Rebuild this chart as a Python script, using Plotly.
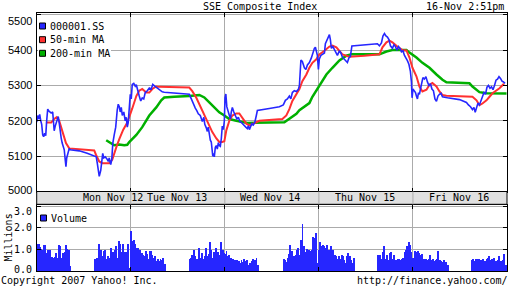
import numpy as np
import plotly.graph_objects as go

# ---------------- data (time in trading-days from chart start, price in index points) -------------
price_pts = [
    (0.000, 5196), (0.011, 5215), (0.021, 5205), (0.032, 5218), (0.043, 5200), (0.053, 5190),
    (0.064, 5160), (0.074, 5155), (0.085, 5165), (0.096, 5158), (0.106, 5200), (0.117, 5233),
    (0.128, 5228), (0.138, 5225), (0.154, 5222), (0.170, 5225), (0.181, 5195), (0.186, 5172),
    (0.197, 5185), (0.207, 5192), (0.218, 5205), (0.229, 5212), (0.239, 5195), (0.250, 5160),
    (0.261, 5150), (0.271, 5137), (0.282, 5128), (0.293, 5118), (0.303, 5090), (0.311, 5070),
    (0.319, 5095), (0.330, 5108), (0.346, 5122), (0.356, 5118),
    (0.452, 5115), (0.537, 5108), (0.612, 5100), (0.633, 5098), (0.644, 5080), (0.654, 5062),
    (0.665, 5043), (0.681, 5060), (0.686, 5076), (0.702, 5108), (0.713, 5095), (0.729, 5098),
    (0.745, 5093), (0.761, 5085), (0.771, 5095), (0.787, 5076), (0.798, 5090), (0.809, 5136),
    (0.824, 5160), (0.840, 5182), (0.856, 5230), (0.867, 5247), (0.878, 5240), (0.888, 5225),
    (0.899, 5238), (0.910, 5215), (0.926, 5225), (0.941, 5200), (0.952, 5210), (0.963, 5182),
    (0.973, 5195), (0.984, 5240), (0.995, 5275),
    (1.005, 5262), (1.016, 5303), (1.032, 5306), (1.048, 5298), (1.059, 5302), (1.074, 5284),
    (1.090, 5270), (1.106, 5256), (1.122, 5265), (1.138, 5262), (1.154, 5280), (1.176, 5285),
    (1.197, 5293), (1.218, 5290), (1.234, 5303), (1.255, 5298), (1.271, 5295), (1.293, 5290),
    (1.314, 5285), (1.335, 5282), (1.356, 5281),
    (1.622, 5275), (1.644, 5262), (1.665, 5247), (1.686, 5236), (1.702, 5229), (1.718, 5220),
    (1.739, 5215), (1.750, 5205), (1.761, 5198), (1.777, 5210), (1.787, 5190), (1.803, 5180),
    (1.814, 5170), (1.824, 5182), (1.835, 5155), (1.846, 5145), (1.856, 5140), (1.867, 5120),
    (1.872, 5100), (1.883, 5108), (1.888, 5098), (1.899, 5125), (1.910, 5130), (1.920, 5120),
    (1.931, 5138), (1.941, 5130), (1.952, 5128), (1.963, 5150), (1.973, 5185), (1.984, 5175),
    (1.995, 5200), (2.002, 5265), (2.011, 5276),
    (2.021, 5240), (2.037, 5225), (2.048, 5215), (2.059, 5205), (2.069, 5225), (2.080, 5238),
    (2.096, 5225), (2.112, 5215), (2.128, 5205), (2.144, 5210), (2.160, 5198), (2.176, 5195),
    (2.191, 5190), (2.207, 5185), (2.223, 5182), (2.239, 5178), (2.250, 5186), (2.261, 5175),
    (2.271, 5182), (2.287, 5192), (2.303, 5188), (2.319, 5196), (2.335, 5215), (2.346, 5229),
    (2.473, 5235), (2.580, 5240), (2.622, 5245),
    (2.644, 5258), (2.665, 5262), (2.686, 5270), (2.702, 5262), (2.718, 5280), (2.739, 5285),
    (2.761, 5283), (2.782, 5289), (2.793, 5300),
    (2.809, 5372), (2.824, 5368), (2.846, 5350), (2.862, 5345), (2.878, 5358), (2.899, 5365),
    (2.920, 5378), (2.936, 5395), (2.952, 5405), (2.963, 5408), (2.973, 5392), (2.984, 5385),
    (2.995, 5345), (3.005, 5375), (3.021, 5385), (3.037, 5388), (3.059, 5392), (3.069, 5418),
    (3.085, 5428), (3.101, 5437), (3.112, 5444), (3.122, 5430), (3.133, 5405), (3.149, 5410),
    (3.165, 5402), (3.181, 5395), (3.197, 5385), (3.218, 5398), (3.234, 5392), (3.250, 5380),
    (3.266, 5375), (3.282, 5370), (3.303, 5365), (3.319, 5378), (3.335, 5382), (3.351, 5412),
    (3.484, 5415), (3.622, 5418),
    (3.644, 5412), (3.665, 5420), (3.681, 5440), (3.697, 5447), (3.713, 5440), (3.729, 5437),
    (3.745, 5430), (3.761, 5412), (3.782, 5405), (3.798, 5415), (3.814, 5410), (3.830, 5400),
    (3.846, 5410), (3.862, 5405), (3.878, 5395), (3.894, 5398), (3.910, 5385), (3.926, 5378),
    (3.941, 5370), (3.957, 5360), (3.973, 5340), (3.984, 5310), (3.991, 5265), (4.000, 5290),
    (4.011, 5285), (4.027, 5280), (4.037, 5270), (4.048, 5262), (4.059, 5280), (4.069, 5275),
    (4.080, 5290), (4.090, 5305), (4.106, 5322), (4.122, 5318), (4.138, 5325), (4.154, 5310),
    (4.170, 5300), (4.186, 5305), (4.202, 5290), (4.218, 5285), (4.234, 5262), (4.250, 5255),
    (4.266, 5270), (4.282, 5275), (4.298, 5278), (4.314, 5268),
    (4.367, 5265), (4.495, 5260), (4.569, 5252),
    (4.590, 5245), (4.612, 5240), (4.633, 5232), (4.649, 5238), (4.662, 5224), (4.676, 5240),
    (4.691, 5250), (4.707, 5245), (4.723, 5255), (4.739, 5270), (4.755, 5280), (4.771, 5275),
    (4.787, 5295), (4.803, 5300), (4.819, 5292), (4.835, 5296), (4.851, 5288), (4.867, 5300),
    (4.883, 5315), (4.899, 5318), (4.915, 5325), (4.931, 5320), (4.947, 5312), (4.963, 5310),
    (4.979, 5306),
]

ma50_pts = [
    (0.098, 5195), (0.154, 5195), (0.186, 5205), (0.213, 5210), (0.239, 5200), (0.274, 5170),
    (0.311, 5137), (0.346, 5122), (0.452, 5120), (0.612, 5116), (0.630, 5104), (0.665, 5085),
    (0.697, 5080), (0.771, 5080), (0.803, 5090), (0.824, 5110), (0.846, 5125), (0.878, 5148),
    (0.920, 5175), (0.963, 5195), (0.984, 5210), (1.016, 5235), (1.059, 5270), (1.090, 5285),
    (1.122, 5290), (1.165, 5280), (1.197, 5280), (1.229, 5290), (1.271, 5297), (1.303, 5296),
    (1.622, 5294), (1.654, 5284), (1.697, 5265), (1.729, 5247), (1.761, 5229), (1.803, 5205),
    (1.835, 5187), (1.867, 5168), (1.910, 5150), (1.941, 5140), (1.973, 5140), (1.995, 5142),
    (2.016, 5173), (2.048, 5200), (2.080, 5215), (2.122, 5221), (2.154, 5221), (2.186, 5210),
    (2.229, 5192), (2.261, 5187), (2.293, 5190), (2.335, 5196), (2.367, 5200), (2.612, 5205),
    (2.654, 5215), (2.686, 5233), (2.718, 5256), (2.761, 5275), (2.793, 5290), (2.824, 5312),
    (2.867, 5331), (2.899, 5350), (2.931, 5364), (2.973, 5374), (3.005, 5388), (3.059, 5398),
    (3.112, 5410), (3.144, 5413), (3.186, 5408), (3.218, 5398), (3.250, 5388), (3.293, 5384),
    (3.324, 5381), (3.484, 5384), (3.644, 5388), (3.676, 5408), (3.718, 5422), (3.750, 5427),
    (3.782, 5422), (3.824, 5412), (3.856, 5405), (3.888, 5400), (3.931, 5399), (3.963, 5379),
    (3.995, 5350), (4.037, 5326), (4.069, 5297), (4.101, 5283), (4.144, 5288), (4.176, 5302),
    (4.207, 5307), (4.250, 5297), (4.282, 5283), (4.314, 5273), (4.356, 5271), (4.633, 5268),
    (4.676, 5258), (4.707, 5244), (4.739, 5249), (4.782, 5258), (4.814, 5268), (4.846, 5278),
    (4.920, 5292), (4.968, 5305),
]

ma200_pts = [
    (0.739, 5145), (0.782, 5138), (0.824, 5131), (0.878, 5133), (0.931, 5131), (0.963, 5132),
    (0.984, 5140), (1.059, 5160), (1.122, 5182), (1.197, 5215), (1.271, 5238), (1.324, 5258),
    (1.356, 5266), (1.463, 5268), (1.569, 5268), (1.622, 5270), (1.729, 5273), (1.782, 5266),
    (1.835, 5252), (1.888, 5238), (1.941, 5224), (1.995, 5215), (2.048, 5205), (2.122, 5200),
    (2.186, 5196), (2.239, 5194), (2.633, 5196), (2.686, 5205), (2.761, 5220), (2.793, 5230),
    (2.824, 5236), (2.867, 5244), (2.899, 5250), (2.931, 5268), (2.973, 5285), (3.005, 5297),
    (3.080, 5331), (3.144, 5350), (3.218, 5371), (3.293, 5384), (3.346, 5388), (3.644, 5388),
    (3.718, 5396), (3.782, 5400), (3.931, 5400), (3.963, 5393), (4.037, 5379), (4.101, 5364),
    (4.176, 5350), (4.250, 5331), (4.314, 5316), (4.356, 5309), (4.601, 5306), (4.633, 5297),
    (4.707, 5281), (4.782, 5278), (4.995, 5277),
]

# volume sessions: (first bar time, last bar time) in days, and 5-minute volumes in millions
vol_sessions = [(0.003, 0.351), (0.612, 1.356), (1.622, 2.346), (2.622, 3.367), (3.622, 4.367), (4.622, 4.984)]
vol_mon = [1.30, 1.27, 1.12, 1.05, 0.98, 1.22, 1.22, 0.88, 1.00, 1.00, 0.68, 0.68, 0.65, 0.66, 0.84,
           0.65, 1.22, 1.20, 0.65, 0.85, 0.92, 1.22, 1.04, 1.00, 0.27]
vol_tue = [0.60, 0.60, 0.65, 1.30, 0.90, 1.00, 0.70, 0.95, 1.00, 0.60, 0.70, 0.65, 1.10, 0.60, 0.90,
           1.00, 1.20, 0.65, 1.40, 1.30, 0.90, 1.30, 0.90, 0.90, 0.90, 1.30, 0.15, 1.90, 1.40, 1.45,
           1.30, 1.10, 1.10, 0.90, 1.00, 0.85, 0.75, 0.70, 0.95, 0.80, 0.60, 0.95, 0.95, 0.75, 0.65,
           0.70, 0.50, 0.60, 0.50, 0.60, 0.55, 0.65, 0.35]
vol_wed = [0.60, 0.65, 0.75, 0.60, 1.00, 0.70, 0.60, 0.60, 1.10, 0.65, 0.60, 0.85, 0.60, 0.70, 1.10,
           0.70, 0.65, 0.80, 1.35, 1.00, 0.65, 0.90, 0.85, 1.10, 0.90, 0.90, 0.75, 1.35, 1.00, 1.00,
           0.85, 0.80, 0.95, 0.70, 0.75, 0.60, 0.65, 0.55, 0.60, 0.55, 0.50, 0.55, 0.45, 0.50, 0.40,
           0.55, 0.45, 0.60, 0.40, 0.50, 0.55, 0.30, 0.40, 0.30, 0.50, 0.60, 0.30, 0.55, 0.65, 0.30]
vol_thu = [0.60, 0.55, 0.45, 0.65, 0.80, 1.25, 0.95, 0.70, 0.70, 0.75, 1.00, 1.10, 0.75, 1.45, 2.20,
           1.20, 0.90, 1.05, 1.00, 1.00, 0.95, 1.00, 1.60, 1.55, 1.80, 0.40, 1.00, 1.35, 1.20, 1.25,
           1.20, 1.10, 1.25, 1.00, 1.00, 1.20, 0.90, 1.00, 0.75, 0.70, 0.60, 0.70, 0.60, 0.75, 0.70,
           0.55, 0.40, 0.70, 0.85, 0.70, 0.55, 0.40, 0.65]
vol_fri = [0.75, 0.65, 0.75, 0.60, 0.90, 1.20, 0.60, 0.75, 0.55, 0.85, 0.90, 0.60, 0.75, 0.55, 0.55,
           0.60, 0.60, 0.55, 0.60, 0.65, 0.90, 1.00, 1.20, 1.35, 1.25, 0.90, 0.65, 0.60, 0.95, 0.90,
           0.95, 0.85, 0.75, 0.80, 0.60, 0.60, 0.60, 0.55, 0.60, 0.75, 0.55, 0.60, 0.50, 0.55, 0.60,
           0.95, 0.55, 0.50, 0.45, 0.55, 0.45, 0.45, 0.30]
vol_last = [0.55, 0.60, 0.50, 0.60, 0.60, 0.60, 0.45, 0.55, 0.60, 0.45, 0.50, 0.60, 0.65, 0.70, 0.55,
            0.60, 0.65, 0.45, 0.50, 0.55, 0.70, 0.50, 0.50, 0.55, 0.80, 0.30]
vol_lists = [vol_mon, vol_tue, vol_wed, vol_thu, vol_fri, vol_last]

day_labels = ["Mon Nov 12", "Tue Nov 13", "Wed Nov 14", "Thu Nov 15", "Fri Nov 16"]
day_label_t = [0.806, 1.49, 2.48, 3.49, 4.49]
day_bounds = [1, 2, 3, 4]
price_ticks = [5000, 5100, 5200, 5300, 5400, 5500]
vol_ticks = [0, 1, 2, 3]
vol_tick_text = ["0.0", "1.0", "2.0", "3.0"]
series_names = ["000001.SS", "50-min MA", "200-min MA"]
title_text = "SSE Composite Index"
stamp_text = "16-Nov 2:51pm"

# ---------------- styling / geometry ----------------
W, H = 512, 288
BLUE, RED, GREEN = "#2626ff", "#ff3030", "#00b000"
GRID = "#ababab"
MONO = "DejaVu Sans Mono"
SANS = "Liberation Sans, Arial"

def PX(x):
    return x / W

def PY(y):
    return 1 - y / H

X0, X1 = 36.7, 507.0
MAIN_TOP, MAIN_BOT = 13.0, 191.5
PRICE_MIN, PRICE_MAX = 5000, 5505
BAND_BOT = 204.3
VOL_TOP, VOL_BOT = 204.5, 271.0
VOL_MAX = 3.09

price_t, price_v = zip(*price_pts)
ma50_t, ma50_v = zip(*ma50_pts)
ma200_t, ma200_v = zip(*ma200_pts)

vol_t, vol_v = [], []
for (a, b), vl in zip(vol_sessions, vol_lists):
    vol_t.extend(np.linspace(a, b, len(vl)))
    vol_v.extend(vl)

fig = go.Figure()
fig.add_trace(go.Scatter(x=ma200_t, y=ma200_v, mode="lines", line=dict(color=GREEN, width=2.5),
                         xaxis="x", yaxis="y", hoverinfo="skip"))
fig.add_trace(go.Scatter(x=ma50_t, y=ma50_v, mode="lines", line=dict(color=RED, width=2),
                         xaxis="x", yaxis="y", hoverinfo="skip"))
fig.add_trace(go.Scatter(x=price_t, y=price_v, mode="lines", line=dict(color=BLUE, width=1.6),
                         xaxis="x", yaxis="y", hoverinfo="skip"))
fig.add_trace(go.Bar(x=vol_t, y=vol_v, width=0.0105, marker=dict(color=BLUE, line=dict(width=0)),
                     xaxis="x2", yaxis="y2", hoverinfo="skip"))

axis_common = dict(showgrid=True, gridcolor=GRID, gridwidth=1, zeroline=False, showline=True,
                   linecolor="black", linewidth=1, mirror="ticks", ticks="inside", ticklen=4,
                   tickcolor="black", tickwidth=1)

fig.update_layout(
    width=W, height=H, margin=dict(l=0, r=0, t=0, b=0), autosize=False,
    paper_bgcolor="white", plot_bgcolor="white", showlegend=False, bargap=0,
    xaxis=dict(domain=[PX(X0), PX(X1)], range=[0, 5], tickvals=day_bounds, showticklabels=False,
               anchor="y", **axis_common),
    yaxis=dict(domain=[PY(MAIN_BOT), PY(MAIN_TOP)], range=[PRICE_MIN, PRICE_MAX], tickvals=price_ticks,
               showticklabels=False, anchor="x", **axis_common),
    xaxis2=dict(domain=[PX(X0), PX(X1)], range=[0, 5], tickvals=day_bounds, showticklabels=False,
                anchor="y2", **axis_common),
    yaxis2=dict(domain=[PY(VOL_BOT), PY(VOL_TOP)], range=[0, VOL_MAX], tickvals=vol_ticks,
                showticklabels=False, anchor="x2", **axis_common),
)

shapes = []
# date band
shapes.append(dict(type="rect", xref="paper", yref="paper", x0=PX(X0), x1=PX(X1),
                   y0=PY(BAND_BOT), y1=PY(MAIN_BOT), fillcolor="#e0e0e0",
                   line=dict(color="black", width=1), layer="above"))
for d in day_bounds:
    shapes.append(dict(type="line", xref="x", yref="paper", x0=d, x1=d, y0=PY(BAND_BOT), y1=PY(MAIN_BOT),
                       line=dict(color=GRID, width=1), layer="above"))
# legend background
shapes.append(dict(type="rect", xref="paper", yref="paper", x0=PX(37.5), x1=PX(111),
                   y0=PY(59), y1=PY(19), fillcolor="white", line=dict(width=0), layer="above"))
legend_y = [26.0, 39.7, 53.3]
for col, yy in zip([BLUE, RED, GREEN], legend_y):
    shapes.append(dict(type="rect", xref="paper", yref="paper", x0=PX(39.5), x1=PX(45.5),
                       y0=PY(yy + 3), y1=PY(yy - 3), fillcolor=col,
                       line=dict(color="black", width=1), layer="above"))
shapes.append(dict(type="rect", xref="paper", yref="paper", x0=PX(40.5), x1=PX(46.5),
                   y0=PY(221), y1=PY(215), fillcolor=BLUE, line=dict(color="black", width=1),
                   layer="above"))

annotations = []
def note(text, x, y, xanchor="left", size=10, family=MONO, angle=0, xref="paper", yref="paper"):
    annotations.append(dict(text=text, x=x, y=y, xref=xref, yref=yref, xanchor=xanchor,
                            yanchor="middle", showarrow=False, textangle=angle,
                            font=dict(family=family, size=size, color="black"), borderpad=0))

for name, yy in zip(series_names, legend_y):
    note(name, PX(48.5), PY(yy))
note("Volume", PX(49.5), PY(218.5))
note(title_text, PX(260), PY(6.5), xanchor="center")
note(stamp_text, PX(505), PY(6.5), xanchor="right")
note("Copyright 2007 Yahoo! Inc.", PX(-0.5), PY(280.5))
note("http://finance.yahoo.com/", PX(509), PY(280.5), xanchor="right")
note("Millions", PX(7.5), PY(238), xanchor="center", angle=-90)
for lbl, t in zip(day_labels, day_label_t):
    note(lbl, t, PY((MAIN_BOT + BAND_BOT) / 2), xanchor="center", xref="x")

# price axis tick labels: on the price scale, kept inside the panel like the original
for v in price_ticks:
    vy = MAIN_BOT - (MAIN_BOT - MAIN_TOP) * (v - PRICE_MIN) / (PRICE_MAX - PRICE_MIN)
    vy = min(max(vy, 20.5), 189.5)
    note(str(v), PX(33), PY(vy), xanchor="right", size=11, family=SANS)
# volume axis tick labels (millions), kept inside the panel
for v, txt in zip(vol_ticks, vol_tick_text):
    vy = VOL_BOT - (VOL_BOT - VOL_TOP) * v / VOL_MAX
    vy = min(max(vy, 211.0), 269.0)
    note(txt, PX(33), PY(vy), xanchor="right")

fig.update_layout(shapes=shapes, annotations=annotations)
fig.write_html("out.html", config={"displayModeBar": False, "responsive": False})
